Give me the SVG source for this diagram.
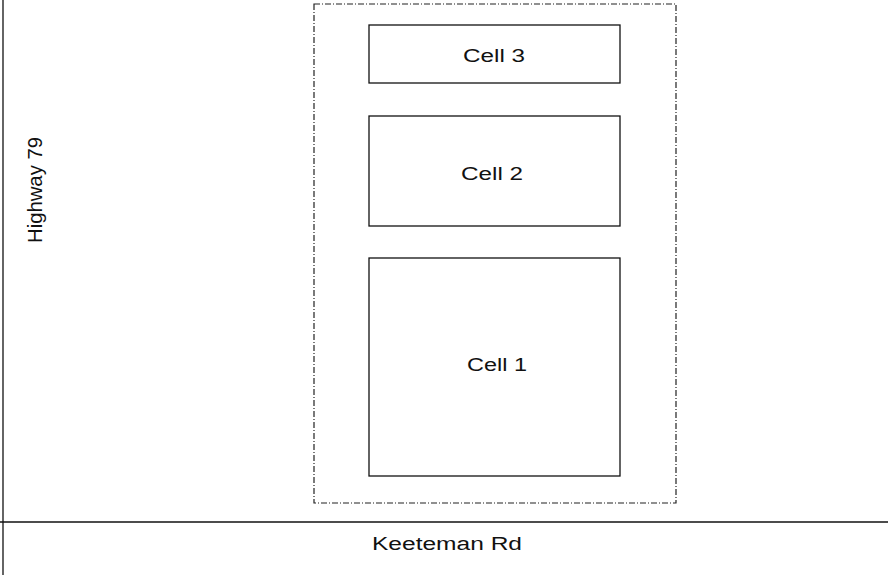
<svg xmlns="http://www.w3.org/2000/svg" width="888" height="575" viewBox="0 0 888 575">
<style>
.cell{fill:#fff;stroke:#111;stroke-width:1.3}
.lbl{font-family:"Liberation Sans",Arial,sans-serif;font-size:18px;fill:#111}
.road{stroke:#111;stroke-width:1.3;fill:none}
.bound{fill:none;stroke:#222;stroke-width:1.2;stroke-dasharray:6 2 1 2}
</style>
<rect width="888" height="575" fill="#fff"/>
<g id="roads">
<line class="road" x1="3" y1="0" x2="3" y2="575"/>
<line class="road" x1="0" y1="522" x2="888" y2="522"/>
<text class="lbl" x="447" y="550" text-anchor="middle" textLength="150" lengthAdjust="spacingAndGlyphs">Keeteman Rd</text>
<text class="lbl" style="font-size:20px" transform="translate(41.5,190) rotate(-90)" text-anchor="middle" textLength="106" lengthAdjust="spacingAndGlyphs">Highway 79</text>
</g>
<g id="boundary">
<rect class="bound" x="314" y="4" width="362" height="499"/>
</g>
<g id="cell3">
<rect class="cell" x="369" y="25" width="251" height="58"/>
<text class="lbl" x="494" y="62" text-anchor="middle" textLength="62" lengthAdjust="spacingAndGlyphs">Cell 3</text>
</g>
<g id="cell2">
<rect class="cell" x="369" y="116" width="251" height="110"/>
<text class="lbl" x="492" y="180" text-anchor="middle" textLength="62" lengthAdjust="spacingAndGlyphs">Cell 2</text>
</g>
<g id="cell1">
<rect class="cell" x="369" y="258" width="251" height="218"/>
<text class="lbl" x="497" y="371" text-anchor="middle" textLength="60" lengthAdjust="spacingAndGlyphs">Cell 1</text>
</g>
<g id="connectors"/>
</svg>
